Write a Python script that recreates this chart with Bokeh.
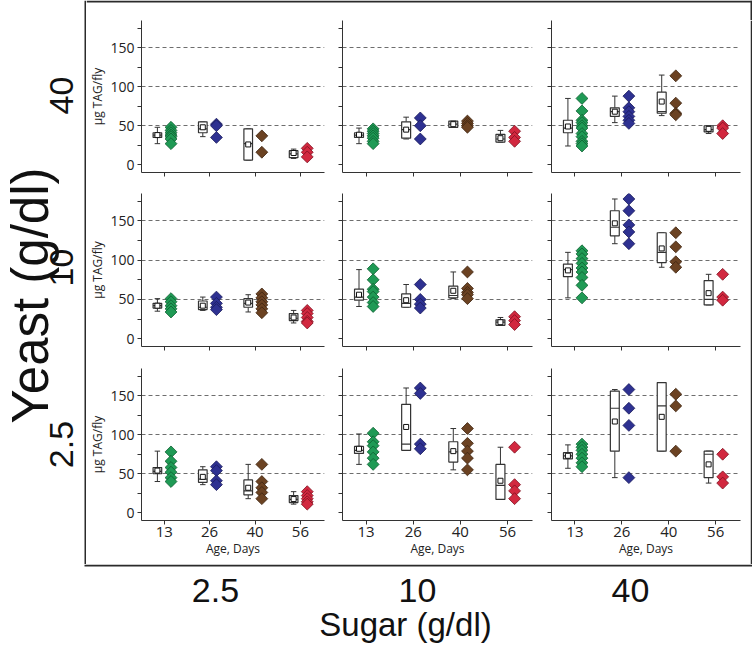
import math
from bokeh.plotting import figure
from bokeh.layouts import row, column
from bokeh.models import Range1d, FixedTicker
from bokeh.core.properties import value
from bokeh.embed import file_html
from bokeh.resources import INLINE

# ---------------- data ----------------
ages = ["13", "26", "40", "56"]
yeast_levels = ["40", "10", "2.5"]      # panel rows, top to bottom
sugar_levels = ["2.5", "10", "40"]      # panel columns, left to right
age_fill = ["#1f9a55", "#2e3191", "#6b4222", "#d2283f"]
age_line = ["#0d5e30", "#1a1c5c", "#3d2410", "#7d1020"]
y_major = [0, 50, 100, 150]
y_minor = [25, 75, 125, 175]
grid_vals = [50, 100, 150]
y_title = "µg TAG/fly"
x_title = "Age, Days"

# Yeast 40, Sugar 2.5
y40_s25_pts = [[48, 44, 41, 38, 36, 33, 27], [52, 50, 35], [37, 16], [21, 16, 10]]
y40_s25_lo = [27, 36, 6, 8]
y40_s25_q1 = [35, 41, 6, 9]
y40_s25_med = [38, 46, 27, 14]
y40_s25_q3 = [41, 55, 46, 18]
y40_s25_hi = [48, 55, 46, 20]
y40_s25_mean = [38, 48, 26, 15]
# Yeast 40, Sugar 10
y40_s10_pts = [[46, 43, 40, 37, 34, 30, 27], [60, 50, 33], [56, 53, 50, 48], [43, 35, 30]]
y40_s10_lo = [27, 33, 48, 29]
y40_s10_q1 = [35, 34, 48, 29]
y40_s10_med = [38, 45, 52, 33]
y40_s10_q3 = [41, 55, 56, 39]
y40_s10_hi = [47, 61, 56, 44]
y40_s10_mean = [38.5, 45, 52, 34]
# Yeast 40, Sugar 40
y40_s40_pts = [[85, 69, 57, 54, 50, 47, 40, 36, 30, 27, 24], [88, 73, 68, 62, 57, 53], [114, 79, 66, 64], [50, 47, 40]]
y40_s40_lo = [24, 54, 63, 40]
y40_s40_q1 = [41, 62, 66, 42]
y40_s40_med = [47, 68, 68, 45]
y40_s40_q3 = [57, 73, 93, 50]
y40_s40_hi = [85, 88, 115, 50]
y40_s40_mean = [49, 68, 81, 46]
# Yeast 10, Sugar 2.5
y10_s25_pts = [[51, 47, 42, 38, 34], [53, 45, 40, 37], [57, 52, 47, 43, 38, 33], [36, 32, 27, 22, 20]]
y10_s25_lo = [35, 36, 34, 20]
y10_s25_q1 = [39, 37, 40, 23]
y10_s25_med = [42, 40, 45, 26]
y10_s25_q3 = [45, 48, 51, 32]
y10_s25_hi = [51, 53, 56, 36]
y10_s25_mean = [42, 42, 46, 27]
# Yeast 10, Sugar 10
y10_s10_pts = [[89, 75, 63, 60, 53, 46, 41], [69, 50, 44, 39], [85, 64, 59, 56, 51], [28, 23, 18]]
y10_s10_lo = [41, 40, 51, 17]
y10_s10_q1 = [49, 40, 52, 17]
y10_s10_med = [53, 45, 55, 21]
y10_s10_q3 = [63, 57, 67, 24]
y10_s10_hi = [88, 69, 85, 27]
y10_s10_mean = [56, 49, 61, 21]
# Yeast 10, Sugar 40
y10_s40_pts = [[112, 108, 102, 96, 90, 85, 78, 68, 52], [178, 163, 145, 136, 121], [135, 117, 98, 91], [82, 53, 49]]
y10_s40_lo = [52, 121, 91, 43]
y10_s40_q1 = [79, 131, 97, 43]
y10_s40_med = [88, 142, 110, 50]
y10_s40_q3 = [95, 163, 135, 74]
y10_s40_hi = [110, 178, 135, 82]
y10_s40_mean = [87, 147, 115, 58]
# Yeast 2.5, Sugar 2.5
y25_s25_pts = [[78, 66, 58, 52, 45, 40], [59, 54, 41, 36], [62, 40, 32, 26, 18], [27, 22, 18, 14, 11]]
y25_s25_lo = [40, 36, 18, 11]
y25_s25_q1 = [50, 39, 23, 13]
y25_s25_med = [53, 43, 28, 17]
y25_s25_q3 = [58, 55, 42, 22]
y25_s25_hi = [79, 59, 62, 27]
y25_s25_mean = [54, 46, 32, 17.5]
# Yeast 2.5, Sugar 10
y25_s10_pts = [[102, 91, 86, 78, 70, 62], [160, 153, 88, 82], [108, 89, 79, 70, 55], [84, 36, 28, 18]]
y25_s10_lo = [62, 80, 55, 17]
y25_s10_q1 = [76, 80, 65, 17]
y25_s10_med = [80, 88, 78, 35]
y25_s10_q3 = [85, 139, 91, 62]
y25_s10_hi = [101, 160, 108, 84]
y25_s10_mean = [82, 110, 79, 41]
# Yeast 2.5, Sugar 40
y25_s40_pts = [[88, 84, 80, 75, 70, 64, 59], [158, 134, 112, 45], [152, 137, 79], [75, 46, 38]]
y25_s40_lo = [57, 45, 79, 38]
y25_s40_q1 = [69, 79, 79, 45]
y25_s40_med = [73, 134, 137, 75]
y25_s40_q3 = [77, 156, 167, 79]
y25_s40_hi = [87, 158, 167, 79]
y25_s40_mean = [73, 117, 123, 62]

panel_data = [
    [(y40_s25_pts, y40_s25_lo, y40_s25_q1, y40_s25_med, y40_s25_q3, y40_s25_hi, y40_s25_mean),
     (y40_s10_pts, y40_s10_lo, y40_s10_q1, y40_s10_med, y40_s10_q3, y40_s10_hi, y40_s10_mean),
     (y40_s40_pts, y40_s40_lo, y40_s40_q1, y40_s40_med, y40_s40_q3, y40_s40_hi, y40_s40_mean)],
    [(y10_s25_pts, y10_s25_lo, y10_s25_q1, y10_s25_med, y10_s25_q3, y10_s25_hi, y10_s25_mean),
     (y10_s10_pts, y10_s10_lo, y10_s10_q1, y10_s10_med, y10_s10_q3, y10_s10_hi, y10_s10_mean),
     (y10_s40_pts, y10_s40_lo, y10_s40_q1, y10_s40_med, y10_s40_q3, y10_s40_hi, y10_s40_mean)],
    [(y25_s25_pts, y25_s25_lo, y25_s25_q1, y25_s25_med, y25_s25_q3, y25_s25_hi, y25_s25_mean),
     (y25_s10_pts, y25_s10_lo, y25_s10_q1, y25_s10_med, y25_s10_q3, y25_s10_hi, y25_s10_mean),
     (y25_s40_pts, y25_s40_lo, y25_s40_q1, y25_s40_med, y25_s40_q3, y25_s40_hi, y25_s40_mean)],
]

# ---------------- styling / layout ----------------
FONT = "Open Sans"
BIG_FONT = "Liberation Sans"
AX = "#333333"
FRAME_C = "#2b2b2b"
col_fw = [188, 190, 189]
col_bl = [50, 9, 9]
col_br = [9, 10, 10]
row_fh = [152, 153, 152]
row_bt = [0, 11, 11]
row_bb = [10, 11, 44]
BOX_OFF = -0.15
PT_OFF = 0.15
BOX_HW = 0.095
CAP_HW = 0.06


def make_panel(r, c, data):
    pts, lo, q1, med, q3, hi, mean = data
    p = figure(width=col_bl[c] + col_fw[c] + col_br[c],
               height=row_bt[r] + row_fh[r] + row_bb[r],
               x_range=Range1d(0.5, 4.53), y_range=Range1d(-10, 185),
               toolbar_location=None, output_backend="svg",
               min_border_left=col_bl[c], min_border_right=col_br[c],
               min_border_top=row_bt[r], min_border_bottom=row_bb[r])
    p.outline_line_color = None
    p.xgrid.visible = False
    p.ygrid.ticker = FixedTicker(ticks=grid_vals)
    p.ygrid.grid_line_color = "#6e6e6e"
    p.ygrid.grid_line_dash = "4 3"
    p.ygrid.grid_line_width = 1

    p.yaxis.ticker = FixedTicker(ticks=y_major, minor_ticks=y_minor)
    p.xaxis.ticker = FixedTicker(ticks=[1, 2, 3, 4])
    p.xaxis.major_label_overrides = {i + 1: a for i, a in enumerate(ages)}
    for ax in (p.xaxis[0], p.yaxis[0]):
        ax.axis_line_color = AX
        ax.major_tick_line_color = AX
        ax.minor_tick_line_color = AX
        ax.major_tick_in = 0
        ax.minor_tick_in = 0
        ax.major_label_text_color = "#222222"
        ax.major_label_text_font = FONT
        ax.axis_label_text_font = FONT
        ax.axis_label_text_font_style = "normal"
        ax.axis_label_text_color = "#222222"
    p.yaxis.major_tick_out = 4
    p.yaxis.minor_tick_out = 4
    p.xaxis.major_tick_out = 4
    p.xaxis.minor_tick_line_color = None
    if c == 0:
        p.yaxis.major_label_text_font_size = "14px"
        p.yaxis.major_label_standoff = 3
        p.yaxis.axis_label = y_title
        p.yaxis.axis_label_text_font_size = "12px"
        p.yaxis.axis_label_standoff = 1
    else:
        p.yaxis.major_label_text_font_size = "1px"
        p.yaxis.major_label_text_alpha = 0
        p.yaxis.major_label_standoff = 0
    if r == 2:
        p.xaxis.major_label_text_font_size = "15px"
        p.xaxis.major_label_standoff = 2
        p.xaxis.axis_label = x_title
        p.xaxis.axis_label_text_font_size = "12px"
        p.xaxis.axis_label_standoff = 0
    else:
        p.xaxis.major_label_text_font_size = "1px"
        p.xaxis.major_label_text_alpha = 0
        p.xaxis.major_label_standoff = 0

    bx = [i + 1 + BOX_OFF for i in range(4)]
    p.segment(x0=bx, y0=q3, x1=bx, y1=hi, line_color=AX, line_width=1)
    p.segment(x0=bx, y0=lo, x1=bx, y1=q1, line_color=AX, line_width=1)
    p.segment(x0=[x - CAP_HW for x in bx], y0=hi, x1=[x + CAP_HW for x in bx], y1=hi,
              line_color=AX, line_width=1)
    p.segment(x0=[x - CAP_HW for x in bx], y0=lo, x1=[x + CAP_HW for x in bx], y1=lo,
              line_color=AX, line_width=1)
    p.quad(left=[x - BOX_HW for x in bx], right=[x + BOX_HW for x in bx], bottom=q1, top=q3,
           fill_color="white", line_color=AX, line_width=1.2)
    p.segment(x0=[x - BOX_HW for x in bx], y0=med, x1=[x + BOX_HW for x in bx], y1=med,
              line_color=AX, line_width=1.2)
    p.scatter(x=bx, y=mean, marker="square", size=5, fill_color="white",
              line_color="#111111", line_width=1)
    for i, vals in enumerate(pts):
        px = [i + 1 + PT_OFF] * len(vals)
        p.scatter(x=px, y=vals, marker="square", angle=math.pi / 4, size=8.4,
                  fill_color=age_fill[i], line_color=age_line[i], line_width=0.8)
    return p


panels = [[make_panel(r, c, panel_data[r][c]) for c in range(3)] for r in range(3)]
grid = column(*[row(*panels[r]) for r in range(3)])

GRID_W = sum(col_fw) + sum(col_bl) + sum(col_br)          # 664
GRID_H = sum(row_fh) + sum(row_bt) + sum(row_bb)          # 544
TOP_H = 20
LEFT_W = 86
INNER_H = TOP_H + GRID_H


def strip(w, h):
    s = figure(width=w, height=h, toolbar_location=None, output_backend="svg",
               min_border=0, x_axis_type=None, y_axis_type=None,
               x_range=Range1d(0, w), y_range=Range1d(h, 0))
    s.outline_line_color = None
    s.grid.visible = False
    return s


# top edge of the frame (with the top of the right edge)
top = strip(GRID_W + 2, TOP_H)
top.quad(left=[0, GRID_W], right=[GRID_W + 2, GRID_W + 2], top=[0, 0], bottom=[2, TOP_H],
         fill_color=FRAME_C, line_color=None)
# right edge of the frame
right = strip(2, GRID_H)
right.quad(left=[0], right=[2], top=[0], bottom=[GRID_H], fill_color=FRAME_C, line_color=None)

inner = column(top, row(grid, right))

# left strip: frame's left edge, yeast title and row labels
left = strip(LEFT_W, INNER_H)
left.quad(left=[LEFT_W - 2], right=[LEFT_W], top=[0], bottom=[INNER_H],
          fill_color=FRAME_C, line_color=None)
left.text(x=[30], y=[295], text=["Yeast (g/dl)"], angle=math.pi / 2,
          text_font=value(BIG_FONT), text_font_size="51px", text_color="#111111",
          text_align="center", text_baseline="middle")
left.text(x=[61, 61, 61], y=[95, 267, 444], text=yeast_levels, angle=math.pi / 2,
          text_font=value(BIG_FONT), text_font_size="34px", text_color="#111111",
          text_align="center", text_baseline="middle")

# bottom strip: frame's bottom edge, sugar labels and title
BOT_W = LEFT_W + GRID_W + 2
BOT_H = 643 - INNER_H
bottom = strip(BOT_W, BOT_H)
bottom.quad(left=[LEFT_W - 2], right=[BOT_W], top=[0], bottom=[2],
            fill_color=FRAME_C, line_color=None)
bottom.text(x=[215, 417, 630], y=[26, 26, 26], text=sugar_levels,
            text_font=value(BIG_FONT), text_font_size="34px", text_color="#111111",
            text_align="center", text_baseline="middle")
bottom.text(x=[405], y=[60], text=["Sugar (g/dl)"],
            text_font=value(BIG_FONT), text_font_size="33px", text_color="#111111",
            text_align="center", text_baseline="middle")

page = column(row(left, inner), bottom)

open("out.html", "w").write(file_html(page, INLINE))
